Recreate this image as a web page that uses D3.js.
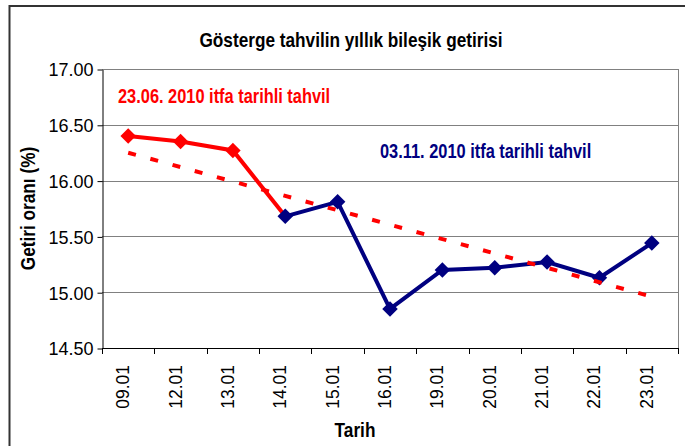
<!DOCTYPE html>
<html>
<head>
<meta charset="utf-8">
<script src="https://cdn.jsdelivr.net/npm/d3@7"></script>
<style>
  body { margin: 0; background: #fff; }
  text { font-family: "Liberation Sans", Arial, sans-serif; }
  .narrow { font-weight: bold; }
</style>
</head>
<body>
<svg id="chart"></svg>
<script>
var width = 685,
    height = 446;

var dates = ["09.01", "12.01", "13.01", "14.01", "15.01", "16.01", "19.01", "20.01", "21.01", "22.01", "23.01"];
// 23.06.2010 bond (red), runs up to the switch day
var redDates = ["09.01", "12.01", "13.01", "14.01"];
var redValues = [16.40, 16.35, 16.27, 15.68];
// 03.11.2010 bond (navy)
var blueDates = ["14.01", "15.01", "16.01", "19.01", "20.01", "21.01", "22.01", "23.01"];
var blueValues = [15.68, 15.81, 14.85, 15.20, 15.22, 15.27, 15.13, 15.44];
// dashed trend line, read at its two ends
var trendDates = ["09.01", "23.01"];
var trendValues = [16.25, 14.96];
var yTicks = [14.5, 15.0, 15.5, 16.0, 16.5, 17.0];

var plotLeft = 102, plotRight = 678, plotTop = 69, plotBottom = 348;

var svg = d3.select("#chart").attr("width", width).attr("height", height);

// outer frame
svg.append("rect")
  .attr("x", 9.5).attr("y", 6)
  .attr("width", 700).attr("height", 460)
  .attr("fill", "#fff")
  .attr("stroke", "#333").attr("stroke-width", 2);

var x = d3.scaleBand().domain(dates).range([plotLeft, plotRight]);
var y = d3.scaleLinear().domain([14.5, 17]).range([plotBottom, plotTop]);

function cx(d) { return x(d) + x.bandwidth() / 2; }

// grid lines + plot border
svg.append("g").selectAll("line")
  .data(yTicks.filter(function(d) { return d > 14.5; }))
  .enter().append("line")
  .attr("x1", plotLeft).attr("x2", plotRight)
  .attr("y1", function(d) { return Math.round(y(d)) + 0.5; })
  .attr("y2", function(d) { return Math.round(y(d)) + 0.5; })
  .attr("stroke", "#808080").attr("stroke-width", 1);
svg.append("line")
  .attr("x1", plotRight + 0.5).attr("x2", plotRight + 0.5)
  .attr("y1", plotTop).attr("y2", plotBottom)
  .attr("stroke", "#808080");

// y axis
var yAxis = svg.append("g")
  .attr("transform", "translate(" + (plotLeft + 0.5) + ",0.5)")
  .call(d3.axisLeft(y).tickValues(yTicks).tickFormat(d3.format(".2f")).tickSize(5).tickSizeOuter(0));
yAxis.select(".domain").attr("stroke", "#000");
yAxis.selectAll(".tick line").attr("stroke", "#000");
yAxis.selectAll(".tick text")
  .attr("x", -9).attr("dy", "0.36em")
  .attr("font-size", "18px").attr("fill", "#000")
  .style("font-family", "'Liberation Sans', Arial, sans-serif");

// x axis: ticks between categories
var xb = svg.append("g");
xb.append("line")
  .attr("x1", plotLeft).attr("x2", plotRight + 1)
  .attr("y1", plotBottom + 0.5).attr("y2", plotBottom + 0.5)
  .attr("stroke", "#000");
xb.selectAll("line.tk")
  .data(dates.concat(["end"]))
  .enter().append("line")
  .attr("class", "tk")
  .attr("x1", function(d) { return Math.round(d === "end" ? plotRight : x(d)) + 0.5; })
  .attr("x2", function(d) { return Math.round(d === "end" ? plotRight : x(d)) + 0.5; })
  .attr("y1", plotBottom).attr("y2", plotBottom + 6)
  .attr("stroke", "#000");
xb.selectAll("text")
  .data(dates)
  .enter().append("text")
  .attr("transform", function(d) { return "translate(" + (cx(d) + 1) + "," + (plotBottom + 17) + ") rotate(-90)"; })
  .attr("text-anchor", "end")
  .attr("font-size", "17.5px")
  .text(function(d) { return d; });

// series lines
var line = d3.line()
  .x(function(d) { return cx(d.date); })
  .y(function(d) { return y(d.value); });

var redData = redDates.map(function(d, i) { return { date: d, value: redValues[i] }; });
var blueData = blueDates.map(function(d, i) { return { date: d, value: blueValues[i] }; });
var trendData = trendDates.map(function(d, i) { return { date: d, value: trendValues[i] }; });

svg.append("path").datum(redData)
  .attr("d", line).attr("fill", "none")
  .attr("stroke", "#ff0000").attr("stroke-width", 4);
svg.append("path").datum(blueData)
  .attr("d", line).attr("fill", "none")
  .attr("stroke", "#000080").attr("stroke-width", 4);

var diamond = d3.symbol().type(d3.symbolSquare).size(120);
svg.append("g").selectAll("path")
  .data(redData.slice(0, 3))
  .enter().append("path")
  .attr("d", diamond)
  .attr("transform", function(d) { return "translate(" + cx(d.date) + "," + y(d.value) + ") rotate(45)"; })
  .attr("fill", "#ff0000");
svg.append("g").selectAll("path")
  .data(blueData)
  .enter().append("path")
  .attr("d", diamond)
  .attr("transform", function(d) { return "translate(" + cx(d.date) + "," + y(d.value) + ") rotate(45)"; })
  .attr("fill", "#000080");

svg.append("path").datum(trendData)
  .attr("d", line).attr("fill", "none")
  .attr("stroke", "#ff0000").attr("stroke-width", 4)
  .attr("stroke-dasharray", "8,15");

// bold texts are condensed (narrow face), faked with a horizontal squeeze
function narrowText(tx, ty, rot, size, color, anchor, str) {
  svg.append("g")
    .attr("transform", "translate(" + tx + "," + ty + ")" + (rot ? " rotate(" + rot + ")" : "") + " scale(0.82,1)")
    .append("text").attr("class", "narrow")
    .attr("text-anchor", anchor)
    .attr("font-size", size)
    .attr("fill", color)
    .text(str);
}

narrowText(351, 47, 0, "21px", "#000", "middle", "Gösterge tahvilin yıllık bileşik getirisi");
narrowText(118, 103, 0, "20px", "#ff0000", "start", "23.06. 2010 itfa tarihli tahvil");
narrowText(380, 158, 0, "20px", "#000080", "start", "03.11. 2010 itfa tarihli tahvil");
narrowText(35, (plotTop + plotBottom) / 2, -90, "21px", "#000", "middle", "Getiri oranı (%)");
narrowText((plotLeft + plotRight) / 2 - 35, 437, 0, "21px", "#000", "middle", "Tarih");
</script>
</body>
</html>
